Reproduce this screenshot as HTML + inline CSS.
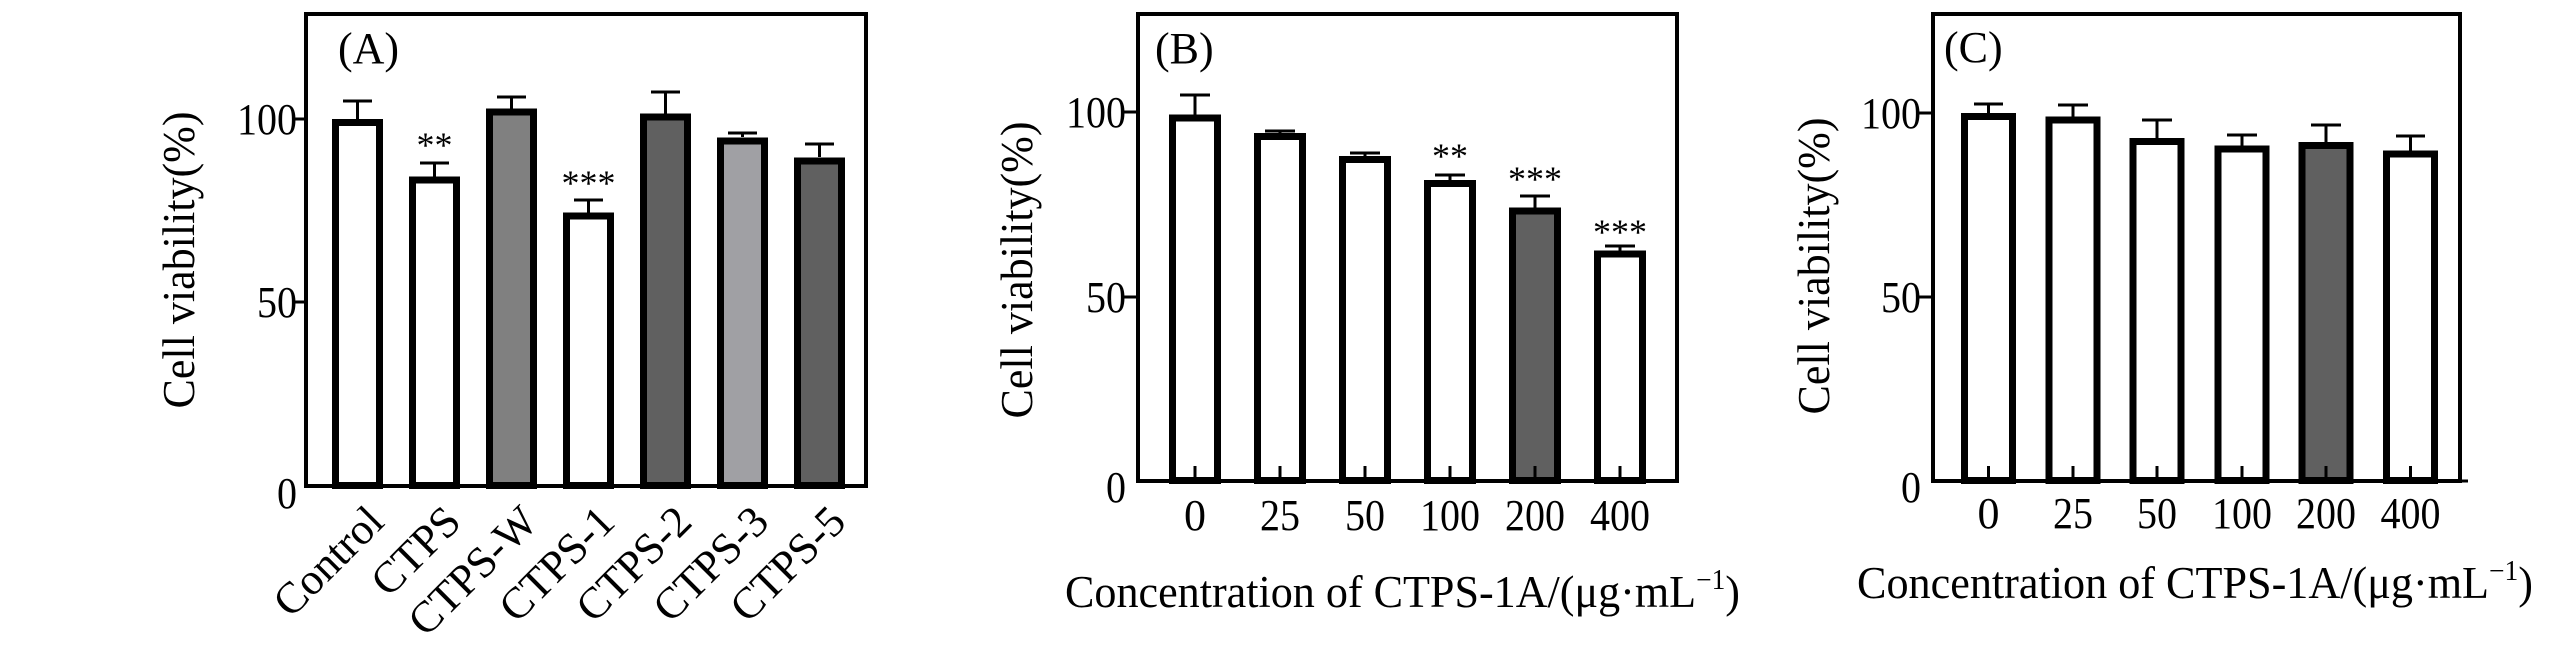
<!DOCTYPE html>
<html><head><meta charset="utf-8"><style>html,body{margin:0;padding:0;background:#fff;}svg{display:block}text{font-family:"Liberation Serif",serif;fill:#000}</style></head>
<body>
<svg width="2567" height="661" viewBox="0 0 2567 661" xmlns="http://www.w3.org/2000/svg">
<!-- Panel A -->
<g>
<rect x="306" y="14" width="560" height="472" fill="none" stroke="#000" stroke-width="4"/>
<line x1="292" y1="119" x2="306" y2="119" stroke="#000" stroke-width="3"/>
<line x1="292" y1="302" x2="306" y2="302" stroke="#000" stroke-width="3"/>
<g font-size="44" text-anchor="end" lengthAdjust="spacingAndGlyphs">
<text x="297" y="134" textLength="60" lengthAdjust="spacingAndGlyphs">100</text>
<text x="297" y="317" textLength="40" lengthAdjust="spacingAndGlyphs">50</text>
<text x="297" y="508" textLength="20" lengthAdjust="spacingAndGlyphs">0</text>
</g>
<text x="338" y="63" font-size="44">(A)</text>
<text transform="translate(194,260) rotate(-90)" font-size="46" text-anchor="middle" textLength="297" lengthAdjust="spacingAndGlyphs">Cell viability(%)</text>
<g stroke="#000" stroke-width="3">
<line x1="357.5" y1="122" x2="357.5" y2="101"/><line x1="343" y1="101" x2="372" y2="101"/>
<line x1="434.5" y1="177" x2="434.5" y2="163"/><line x1="420" y1="163" x2="449" y2="163"/>
<line x1="511.5" y1="111" x2="511.5" y2="97"/><line x1="497" y1="97" x2="526" y2="97"/>
<line x1="588.5" y1="214" x2="588.5" y2="200"/><line x1="574" y1="200" x2="603" y2="200"/>
<line x1="665.5" y1="116" x2="665.5" y2="92"/><line x1="651" y1="92" x2="680" y2="92"/>
<line x1="742.5" y1="137" x2="742.5" y2="133"/><line x1="728" y1="133" x2="757" y2="133"/>
<line x1="819.5" y1="157" x2="819.5" y2="144"/><line x1="805" y1="144" x2="834" y2="144"/>
</g>
<g stroke="#000" stroke-width="7">
<rect x="335.5" y="122.5" width="44" height="363" fill="#fff"/>
<rect x="412.5" y="180" width="44" height="305.5" fill="#fff"/>
<rect x="489.5" y="112" width="44" height="373.5" fill="#808080"/>
<rect x="566.5" y="216" width="44" height="269.5" fill="#fff"/>
<rect x="643.5" y="117" width="44" height="368.5" fill="#606060"/>
<rect x="720.5" y="141" width="44" height="344.5" fill="#a0a0a4"/>
<rect x="797.5" y="161" width="44" height="324.5" fill="#606060"/>
</g>
<text x="434.5" y="157" font-size="36" text-anchor="middle">**</text>
<text x="588.5" y="195" font-size="36" text-anchor="middle">***</text>
<g font-size="44" text-anchor="end">
<text transform="translate(386,524) rotate(-45)">Control</text>
<text transform="translate(463,524) rotate(-45)">CTPS</text>
<text transform="translate(540,524) rotate(-45)">CTPS-W</text>
<text transform="translate(617,524) rotate(-45)">CTPS-1</text>
<text transform="translate(694,524) rotate(-45)">CTPS-2</text>
<text transform="translate(771,524) rotate(-45)">CTPS-3</text>
<text transform="translate(848,524) rotate(-45)">CTPS-5</text>
</g>
</g>
<!-- Panel B -->
<g>
<rect x="1138" y="14" width="539" height="467" fill="none" stroke="#000" stroke-width="4"/>
<line x1="1124" y1="112" x2="1138" y2="112" stroke="#000" stroke-width="3"/>
<line x1="1124" y1="297" x2="1138" y2="297" stroke="#000" stroke-width="3"/>
<g font-size="44" text-anchor="end">
<text x="1126" y="127" textLength="60" lengthAdjust="spacingAndGlyphs">100</text>
<text x="1126" y="312" textLength="40" lengthAdjust="spacingAndGlyphs">50</text>
<text x="1126" y="502" textLength="20" lengthAdjust="spacingAndGlyphs">0</text>
</g>
<text x="1155" y="63" font-size="44">(B)</text>
<text transform="translate(1032,270) rotate(-90)" font-size="46" text-anchor="middle" textLength="297" lengthAdjust="spacingAndGlyphs">Cell viability(%)</text>
<g stroke="#000" stroke-width="3">
<line x1="1195" y1="115" x2="1195" y2="95"/><line x1="1180" y1="95" x2="1210" y2="95"/>
<line x1="1280" y1="133" x2="1280" y2="131"/><line x1="1265" y1="131" x2="1295" y2="131"/>
<line x1="1365" y1="156" x2="1365" y2="153"/><line x1="1350" y1="153" x2="1380" y2="153"/>
<line x1="1450" y1="180" x2="1450" y2="175"/><line x1="1435" y1="175" x2="1465" y2="175"/>
<line x1="1535" y1="208" x2="1535" y2="196"/><line x1="1520" y1="196" x2="1550" y2="196"/>
<line x1="1620" y1="252" x2="1620" y2="246"/><line x1="1605" y1="246" x2="1635" y2="246"/>
</g>
<g stroke="#000" stroke-width="7">
<rect x="1172.5" y="118" width="45" height="362.5" fill="#fff"/>
<rect x="1257.5" y="136.5" width="45" height="344" fill="#fff"/>
<rect x="1342.5" y="159.5" width="45" height="321" fill="#fff"/>
<rect x="1427.5" y="183.5" width="45" height="297" fill="#fff"/>
<rect x="1512.5" y="211" width="45" height="269.5" fill="#606060"/>
<rect x="1597.5" y="254" width="45" height="226.5" fill="#fff"/>
</g>
<g stroke="#000" stroke-width="3">
<line x1="1195" y1="466" x2="1195" y2="481"/><line x1="1280" y1="466" x2="1280" y2="481"/><line x1="1365" y1="466" x2="1365" y2="481"/><line x1="1450" y1="466" x2="1450" y2="481"/><line x1="1535" y1="466" x2="1535" y2="481"/><line x1="1620" y1="466" x2="1620" y2="481"/>
</g>
<text x="1450" y="168" font-size="36" text-anchor="middle">**</text>
<text x="1535" y="191" font-size="36" text-anchor="middle">***</text>
<text x="1620" y="244" font-size="36" text-anchor="middle">***</text>
<g font-size="44" text-anchor="middle">
<text x="1195" y="530">0</text><text x="1280" y="530" textLength="40" lengthAdjust="spacingAndGlyphs">25</text><text x="1365" y="530" textLength="40" lengthAdjust="spacingAndGlyphs">50</text><text x="1450" y="530" textLength="60" lengthAdjust="spacingAndGlyphs">100</text><text x="1535" y="530" textLength="60" lengthAdjust="spacingAndGlyphs">200</text><text x="1620" y="530" textLength="60" lengthAdjust="spacingAndGlyphs">400</text>
</g>
<text x="1065" y="607" font-size="45" textLength="675" lengthAdjust="spacingAndGlyphs">Concentration of CTPS-1A/(μg·mL<tspan font-size="28" dy="-18">−1</tspan><tspan dy="18">)</tspan></text>
</g>
<!-- Panel C -->
<g>
<rect x="1933" y="14" width="527" height="467" fill="none" stroke="#000" stroke-width="4"/>
<line x1="2460" y1="481" x2="2468" y2="481" stroke="#000" stroke-width="3"/>
<line x1="1919" y1="113" x2="1933" y2="113" stroke="#000" stroke-width="3"/>
<line x1="1919" y1="297" x2="1933" y2="297" stroke="#000" stroke-width="3"/>
<g font-size="44" text-anchor="end">
<text x="1921" y="128" textLength="60" lengthAdjust="spacingAndGlyphs">100</text>
<text x="1921" y="312" textLength="40" lengthAdjust="spacingAndGlyphs">50</text>
<text x="1921" y="502" textLength="20" lengthAdjust="spacingAndGlyphs">0</text>
</g>
<text x="1944" y="62" font-size="44">(C)</text>
<text transform="translate(1829,266) rotate(-90)" font-size="46" text-anchor="middle" textLength="297" lengthAdjust="spacingAndGlyphs">Cell viability(%)</text>
<g stroke="#000" stroke-width="3">
<line x1="1988.5" y1="116" x2="1988.5" y2="104"/><line x1="1974" y1="104" x2="2003" y2="104"/>
<line x1="2073" y1="120" x2="2073" y2="105"/><line x1="2058" y1="105" x2="2088" y2="105"/>
<line x1="2157" y1="141" x2="2157" y2="120"/><line x1="2142" y1="120" x2="2172" y2="120"/>
<line x1="2242" y1="148" x2="2242" y2="135"/><line x1="2227" y1="135" x2="2257" y2="135"/>
<line x1="2326" y1="145" x2="2326" y2="125"/><line x1="2311" y1="125" x2="2341" y2="125"/>
<line x1="2410.5" y1="153" x2="2410.5" y2="136"/><line x1="2396" y1="136" x2="2425" y2="136"/>
</g>
<g stroke="#000" stroke-width="7">
<rect x="1964.5" y="116.5" width="48" height="364" fill="#fff"/>
<rect x="2049" y="120" width="48" height="360.5" fill="#fff"/>
<rect x="2133" y="141.5" width="48" height="339" fill="#fff"/>
<rect x="2218" y="149" width="48" height="331.5" fill="#fff"/>
<rect x="2302" y="145.5" width="48" height="335" fill="#606060"/>
<rect x="2386.5" y="154" width="48" height="326.5" fill="#fff"/>
</g>
<g stroke="#000" stroke-width="3">
<line x1="1988.5" y1="466" x2="1988.5" y2="481"/><line x1="2073" y1="466" x2="2073" y2="481"/><line x1="2157" y1="466" x2="2157" y2="481"/><line x1="2242" y1="466" x2="2242" y2="481"/><line x1="2326" y1="466" x2="2326" y2="481"/><line x1="2410.5" y1="466" x2="2410.5" y2="481"/>
</g>
<g font-size="44" text-anchor="middle">
<text x="1988.5" y="528">0</text><text x="2073" y="528" textLength="40" lengthAdjust="spacingAndGlyphs">25</text><text x="2157" y="528" textLength="40" lengthAdjust="spacingAndGlyphs">50</text><text x="2242" y="528" textLength="60" lengthAdjust="spacingAndGlyphs">100</text><text x="2326" y="528" textLength="60" lengthAdjust="spacingAndGlyphs">200</text><text x="2410.5" y="528" textLength="60" lengthAdjust="spacingAndGlyphs">400</text>
</g>
<text x="1857" y="598" font-size="45" textLength="676" lengthAdjust="spacingAndGlyphs">Concentration of CTPS-1A/(μg·mL<tspan font-size="28" dy="-18">−1</tspan><tspan dy="18">)</tspan></text>
</g>
</svg>
</body></html>
